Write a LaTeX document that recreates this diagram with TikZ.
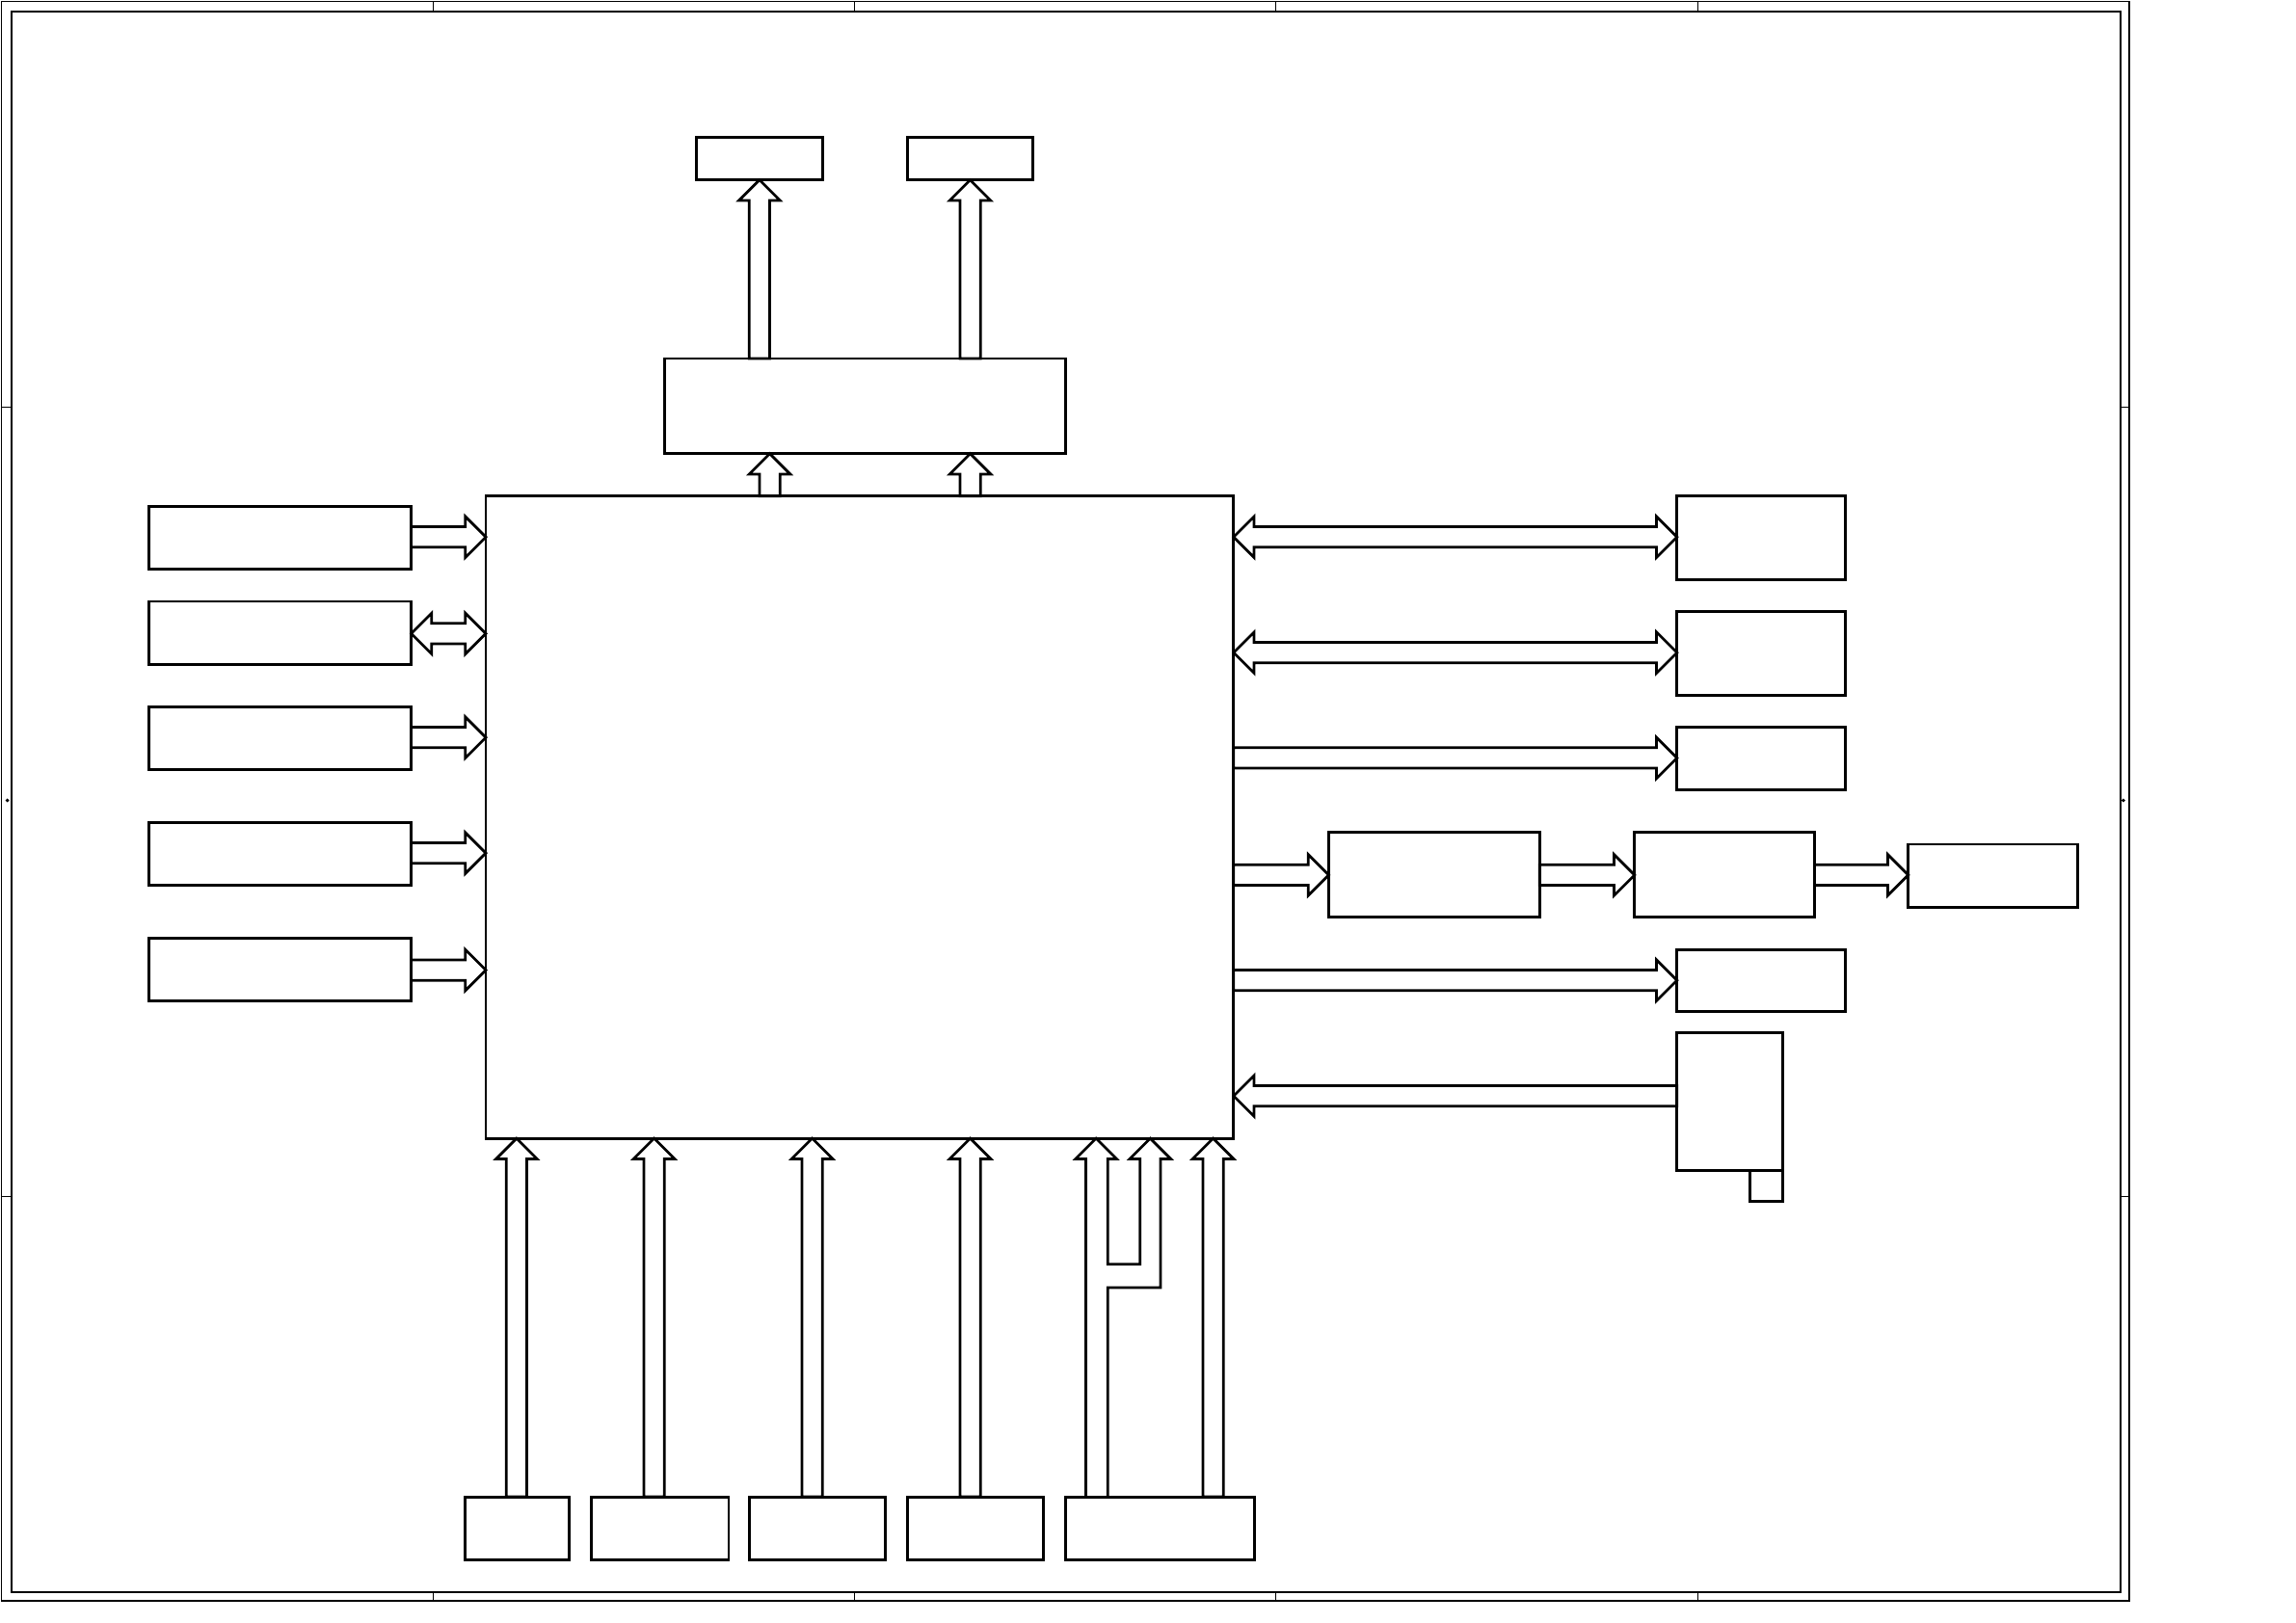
\documentclass[tikz,border=0pt]{standalone}
\newcommand\farR[3]{\draw[fa] (#1,#3-7)--(#2-14,#3-7)--(#2-14,#3-14)--(#2,#3)--(#2-14,#3+14)--(#2-14,#3+7)--(#1,#3+7)--cycle;}
\newcommand\farL[3]{\draw[fa] (#2,#3-7)--(#1+14,#3-7)--(#1+14,#3-14)--(#1,#3)--(#1+14,#3+14)--(#1+14,#3+7)--(#2,#3+7)--cycle;}
\newcommand\farLR[3]{\draw[fa] (#1,#3)--(#1+14,#3-14)--(#1+14,#3-7)--(#2-14,#3-7)--(#2-14,#3-14)--(#2,#3)--(#2-14,#3+14)--(#2-14,#3+7)--(#1+14,#3+7)--(#1+14,#3+14)--cycle;}
\newcommand\farU[3]{\draw[fa] (#1-7,#2)--(#1-7,#3+14)--(#1-14,#3+14)--(#1,#3)--(#1+14,#3+14)--(#1+7,#3+14)--(#1+7,#2)--cycle;}
\begin{document}
\begin{tikzpicture}[x=1pt,y=-1pt,
 bx/.style={draw,line width=1.9pt},fa/.style={draw,fill=white,line width=1.8pt,line join=miter}]
\useasboundingbox (0,0) rectangle (1569,1109);
\draw[line width=0.8pt] (1,1) rectangle (1455,1094);
\draw[line width=1pt] (8,8) rectangle (1449,1088);
\foreach \x in {296,584,872,1160}{\draw[line width=0.6pt] (\x,1)--(\x,8) (\x,1088)--(\x,1094);}
\foreach \y in {278,818}{\draw[line width=0.6pt] (1,\y)--(8,\y) (1449,\y)--(1455,\y);}
\fill (5,547) circle (1.3) (1451,547) circle (1.3);
% arrows
\farU{519}{245}{123}
\farU{663}{245}{123}
\farU{526}{339}{310}
\farU{663}{339}{310}
\farR{281}{332}{367}
\farLR{281}{332}{433}
\farR{281}{332}{504}
\farR{281}{332}{583}
\farR{281}{332}{663}
\farLR{843}{1146}{367}
\farLR{843}{1146}{446}
\farR{843}{1146}{518}
\farR{843}{908}{598}
\farR{1052}{1117}{598}
\farR{1240}{1304}{598}
\farR{843}{1146}{670}
\farL{843}{1146}{749}
\farU{353}{1023}{778}
\farU{447}{1023}{778}
\farU{555}{1023}{778}
\farU{663}{1023}{778}
\farU{829}{1023}{778}
\draw[fa] (742,1023)--(742,792)--(735,792)--(749,778)--(763,792)--(757,792)--(757,864)--(779,864)--(779,792)--(772,792)--(786,778)--(800,792)--(793,792)--(793,880)--(757,880)--(757,1023);
% boxes
\draw[bx] (476,94) rectangle (562,123) coordinate (t1);
\draw[bx] (620,94) rectangle (706,123) coordinate (t2);
\draw[bx] (454,245) rectangle (728,310) coordinate (mid);
\draw[bx] (332,339) rectangle (843,778) coordinate (main);
\foreach \a/\b in {346/389,411/454,483/526,562/605,641/684}{\draw[bx] (102,\a) rectangle (281,\b);}
\draw[bx] (1146,339) rectangle (1261,396);
\draw[bx] (1146,418) rectangle (1261,475);
\draw[bx] (1146,497) rectangle (1261,540);
\draw[bx] (908,569) rectangle (1052,627);
\draw[bx] (1117,569) rectangle (1240,627);
\draw[bx] (1304,577) rectangle (1420,620);
\draw[bx] (1146,649) rectangle (1261,691);
\draw[bx] (1146,706) rectangle (1218,800);
\draw[bx] (1196,800) rectangle (1218,821);
\foreach \a/\b in {318/389,404/498,512/605,620/713,728/857}{\draw[bx] (\a,1023) rectangle (\b,1066);}
\end{tikzpicture}
\end{document}
